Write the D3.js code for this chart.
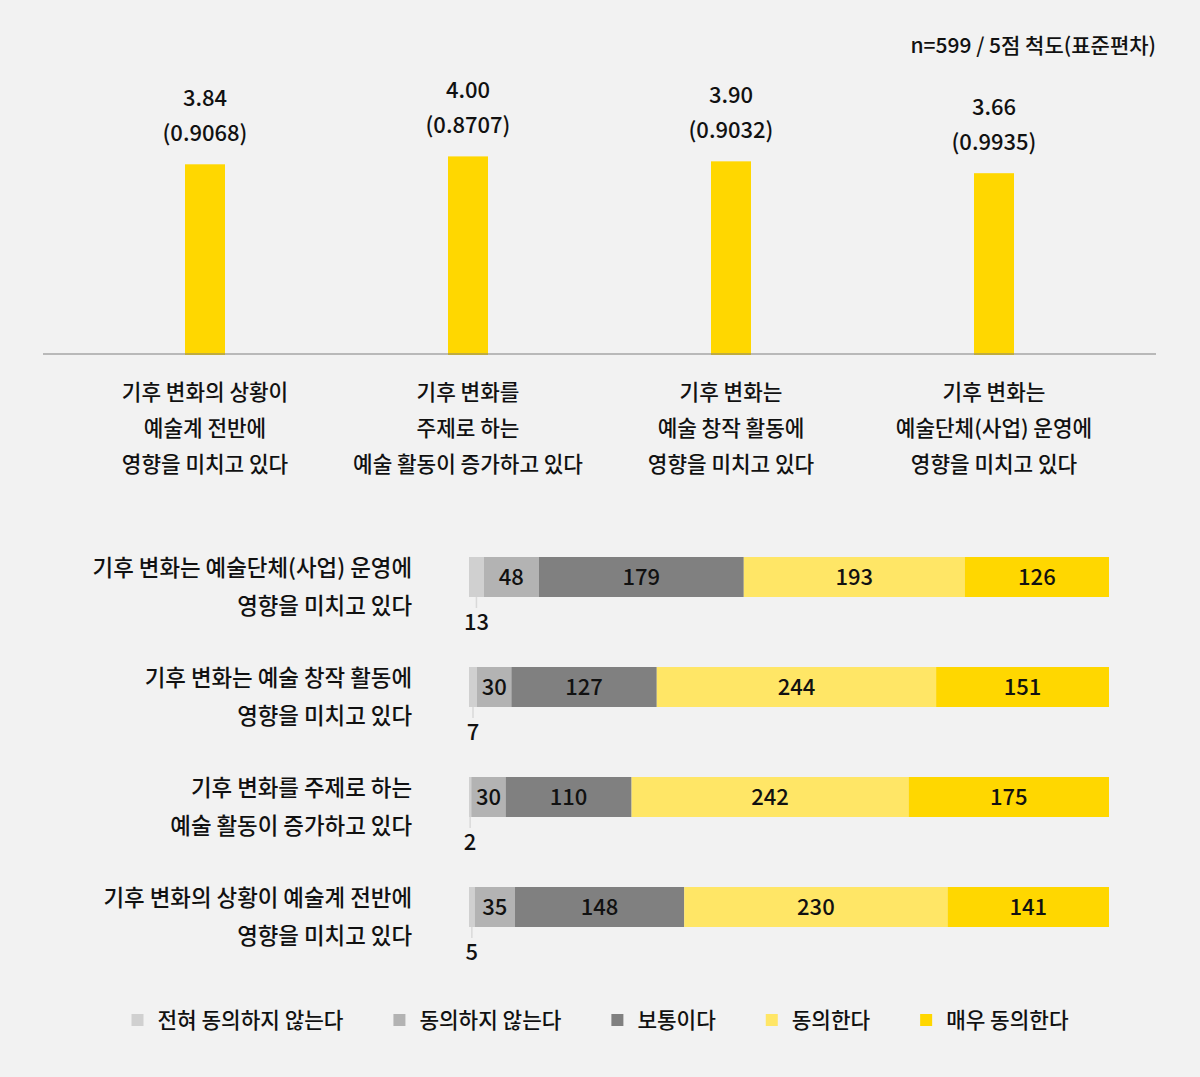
<!DOCTYPE html>
<html>
<head>
<meta charset="utf-8">
<script src="https://cdn.jsdelivr.net/npm/d3@7"></script>
<style>
  body { margin: 0; background: #f2f2f2; }
  svg { display: block; font-family: "Noto Sans CJK KR", "Noto Sans", sans-serif; font-weight: 500; }
</style>
</head>
<body>
<script>
// top chart: mean scores (5-point scale) and standard deviations
const meanLabels = [
    ["기후 변화의 상황이", "예술계 전반에", "영향을 미치고 있다"],
    ["기후 변화를", "주제로 하는", "예술 활동이 증가하고 있다"],
    ["기후 변화는", "예술 창작 활동에", "영향을 미치고 있다"],
    ["기후 변화는", "예술단체(사업) 운영에", "영향을 미치고 있다"]
];
const means = [3.84, 4.00, 3.90, 3.66];
const stdDevs = ["0.9068", "0.8707", "0.9032", "0.9935"];

// bottom chart: response counts, rows from top to bottom
const rowLabels = [
    ["기후 변화는 예술단체(사업) 운영에", "영향을 미치고 있다"],
    ["기후 변화는 예술 창작 활동에", "영향을 미치고 있다"],
    ["기후 변화를 주제로 하는", "예술 활동이 증가하고 있다"],
    ["기후 변화의 상황이 예술계 전반에", "영향을 미치고 있다"]
];
const responses = ["전혀 동의하지 않는다", "동의하지 않는다", "보통이다", "동의한다", "매우 동의한다"];
const strongDisagree = [13, 7, 2, 5];
const disagree = [48, 30, 30, 35];
const neutral = [179, 127, 110, 148];
const agree = [193, 244, 242, 230];
const strongAgree = [126, 151, 175, 141];

const note = "n=599 / 5점 척도(표준편차)";

const width = 1200, height = 1077;
const textColor = "#111111";
const colors = ["#d0d0d0", "#b3b3b3", "#808080", "#ffe666", "#ffd700"];

const svg = d3.select("body").append("svg")
    .attr("width", width)
    .attr("height", height);

svg.append("rect").attr("width", width).attr("height", height).attr("fill", "#f2f2f2");

//note
svg.append("text")
    .attr("x", 1156).attr("y", 53)
    .attr("text-anchor", "end")
    .attr("font-size", 21)
    .attr("fill", textColor)
    .text(note);

// ---- top bar chart ----
const xTop = d3.scaleBand()
    .domain(d3.range(means.length))
    .range([73.5, 1125.5]);
const yTop = d3.scaleLinear().domain([0, 5]).range([354, 107]);
const barW = 40;

let topChart = svg.append("g");

topChart.selectAll("rect.mean")
    .data(means)
    .enter()
    .append("rect")
    .attr("class", "mean")
    .attr("x", (d, i) => xTop(i) + xTop.bandwidth() / 2 - barW / 2)
    .attr("y", d => yTop(d))
    .attr("width", barW)
    .attr("height", d => yTop(0) - yTop(d) + 1)
    .attr("fill", "#ffd700");

topChart.append("line")
    .attr("x1", 43).attr("x2", 1156)
    .attr("y1", yTop(0)).attr("y2", yTop(0))
    .attr("stroke", "#808080").attr("stroke-width", 1);

topChart.selectAll("text.mean")
    .data(means)
    .enter()
    .append("text")
    .attr("class", "mean")
    .attr("x", (d, i) => xTop(i) + xTop.bandwidth() / 2)
    .attr("y", d => yTop(d) - 58)
    .attr("text-anchor", "middle")
    .attr("font-size", 22)
    .attr("fill", textColor)
    .text(d => d.toFixed(2));

topChart.selectAll("text.sd")
    .data(stdDevs)
    .enter()
    .append("text")
    .attr("class", "sd")
    .attr("x", (d, i) => xTop(i) + xTop.bandwidth() / 2)
    .attr("y", (d, i) => yTop(means[i]) - 23)
    .attr("text-anchor", "middle")
    .attr("font-size", 22)
    .attr("fill", textColor)
    .text(d => `(${d})`);

meanLabels.forEach((lines, i) => {
    let t = topChart.append("text")
        .attr("text-anchor", "middle")
        .attr("font-size", 21.3)
        .attr("fill", textColor);
    lines.forEach((line, j) => {
        t.append("tspan")
            .attr("x", xTop(i) + xTop.bandwidth() / 2)
            .attr("y", 400 + j * 36)
            .text(line);
    });
});

// ---- bottom stacked bars ----
const series = [strongDisagree, disagree, neutral, agree, strongAgree];
const rows = rowLabels.map((lab, i) => {
    const row = { label: lab };
    responses.forEach((r, k) => row[r] = series[k][i]);
    return row;
});
const stacked = d3.stack().keys(responses)(rows);
const totals = rows.map(r => d3.sum(responses, k => r[k]));

const xBot = d3.scaleLinear().domain([0, d3.max(totals)]).range([469, 1109]);
const yBot = d3.scaleBand().domain(d3.range(rows.length)).range([557, 997]).paddingInner(0).paddingOuter(0);
const barH = 40;

let bottomChart = svg.append("g");

stacked.forEach((layer, k) => {
    let g = bottomChart.append("g");
    g.selectAll("rect")
        .data(layer)
        .enter()
        .append("rect")
        .attr("x", d => xBot(d[0]))
        .attr("y", (d, i) => yBot(i))
        .attr("width", d => xBot(d[1]) - xBot(d[0]))
        .attr("height", barH)
        .attr("fill", colors[k]);

    if (k === 0) {
        //small values go below the bar with a leader line
        g.selectAll("line")
            .data(layer)
            .enter()
            .append("line")
            .attr("x1", d => (xBot(d[0]) + xBot(d[1])) / 2)
            .attr("x2", d => (xBot(d[0]) + xBot(d[1])) / 2)
            .attr("y1", (d, i) => yBot(i) + barH)
            .attr("y2", (d, i) => yBot(i) + barH + 11)
            .attr("stroke", "#d9d9d9")
            .attr("stroke-width", 1.5);
        g.selectAll("text")
            .data(layer)
            .enter()
            .append("text")
            .attr("x", d => (xBot(d[0]) + xBot(d[1])) / 2)
            .attr("y", (d, i) => yBot(i) + barH / 2 + 53)
            .attr("text-anchor", "middle")
            .attr("font-size", 22)
            .attr("fill", textColor)
            .text(d => d[1] - d[0]);
    } else {
        g.selectAll("text")
            .data(layer)
            .enter()
            .append("text")
            .attr("x", d => (xBot(d[0]) + xBot(d[1])) / 2)
            .attr("y", (d, i) => yBot(i) + barH / 2 + 8)
            .attr("text-anchor", "middle")
            .attr("font-size", 22)
            .attr("fill", textColor)
            .text(d => d[1] - d[0]);
    }
});

rows.forEach((r, i) => {
    let t = bottomChart.append("text")
        .attr("text-anchor", "end")
        .attr("font-size", 22.4)
        .attr("fill", textColor);
    r.label.forEach((line, j) => {
        t.append("tspan")
            .attr("x", 412)
            .attr("y", yBot(i) + barH / 2 - 1 + j * 38)
            .text(line);
    });
});

// ---- legend ----
let legend = svg.append("g");
const items = responses.map((r, k) => {
    let item = legend.append("g");
    item.append("rect")
        .attr("width", 12).attr("height", 12)
        .attr("y", 1014)
        .attr("fill", colors[k]);
    let t = item.append("text")
        .attr("x", 26)
        .attr("y", 1028)
        .attr("font-size", 21.3)
        .attr("fill", textColor)
        .text(r);
    return { item, w: 26 + t.node().getComputedTextLength() };
});
const gap = 50;
const legendW = d3.sum(items, d => d.w) + gap * (items.length - 1);
let lx = 600 - legendW / 2;
items.forEach(d => {
    d.item.attr("transform", `translate(${lx},0)`);
    lx += d.w + gap;
});
</script>
</body>
</html>
